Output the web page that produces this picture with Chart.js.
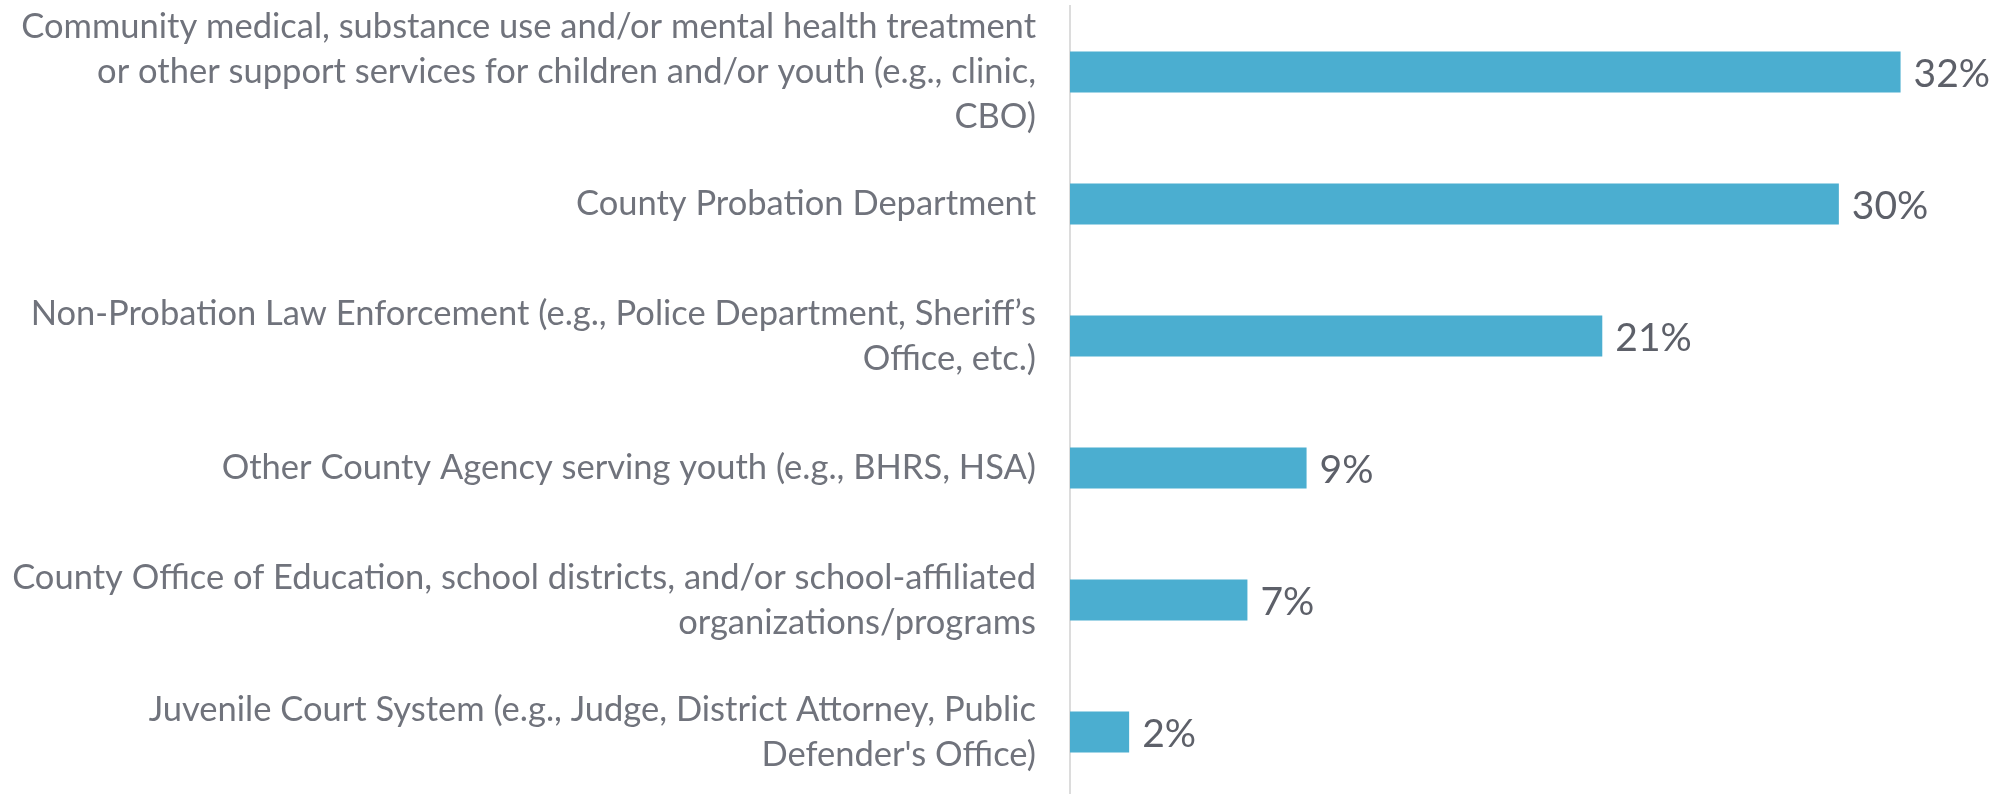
<!DOCTYPE html>
<html>
<head>
<meta charset="utf-8">
<script src="https://cdn.jsdelivr.net/npm/chart.js@4"></script>
<style>
    html, body { margin: 0; padding: 0; background: #ffffff; overflow: hidden; }
    #wrap { width: 2002px; height: 798px; position: relative; }
</style>
</head>
<body>
<div id="wrap"><canvas id="partnerChart"></canvas></div>
<script>
// Agency categories (multi-line tick labels)
const categories = [
    ['Community medical, substance use and/or mental health treatment',
     'or other support services for children and/or youth (e.g., clinic,',
     'CBO)'],
    'County Probation Department',
    ['Non-Probation Law Enforcement (e.g., Police Department, Sheriff\u2019s',
     'Office, etc.)'],
    'Other County Agency serving youth (e.g., BHRS, HSA)',
    ['County Office of Education, school districts, and/or school-affiliated',
     'organizations/programs'],
    ['Juvenile Court System (e.g., Judge, District Attorney, Public',
     'Defender\'s Office)']
];
const shares = [32.3, 29.9, 20.7, 9.2, 6.9, 2.3];
const valueLabels = ['32%', '30%', '21%', '9%', '7%', '2%'];

// Draw the percentage next to each bar
const valueLabelPlugin = {
    id: 'valueLabels',
    afterDatasetsDraw(chart) {
        const ctx = chart.ctx;
        const meta = chart.getDatasetMeta(0);
        ctx.save();
        ctx.font = '39px Lato';
        ctx.fillStyle = '#5d6069';
        ctx.textAlign = 'left';
        ctx.textBaseline = 'middle';
        meta.data.forEach((bar, i) => {
            ctx.fillText(valueLabels[i], bar.x + 13, bar.y + 2);
        });
        ctx.restore();
    }
};

function initChart() {
    const ctx = document.getElementById('partnerChart').getContext('2d');
    new Chart(ctx, {
        type: 'bar',
        data: {
            labels: categories,
            datasets: [{
                data: shares,
                backgroundColor: '#4baed0',
                borderWidth: 0,
                categoryPercentage: 1,
                barPercentage: 0.312
            }]
        },
        options: {
            indexAxis: 'y',
            responsive: true,
            maintainAspectRatio: false,
            animation: false,
            layout: { padding: { top: 6, right: 32, left: 0, bottom: 0 } },
            scales: {
                x: {
                    display: false,
                    min: 0,
                    max: 35
                },
                y: {
                    grid: { display: false, drawTicks: false },
                    border: { display: true, color: '#dcdcdc', width: 2 },
                    ticks: {
                        autoSkip: false,
                        color: '#70737c',
                        font: { family: 'Lato', size: 34.5, lineHeight: 1.3 },
                        padding: 34
                    },
                    afterFit(scale) {
                        scale.width = 1070;
                        scale.paddingTop = 0;
                        scale.paddingBottom = 0;
                    }
                }
            },
            plugins: {
                legend: { display: false },
                tooltip: { enabled: false }
            }
        },
        plugins: [valueLabelPlugin]
    });
}

document.addEventListener('DOMContentLoaded', initChart);
</script>
</body>
</html>
